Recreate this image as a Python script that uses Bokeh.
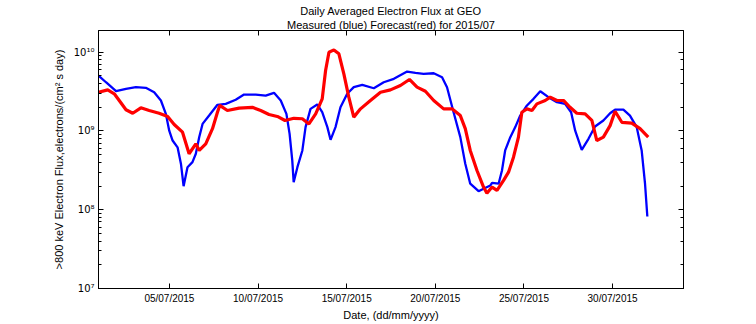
from datetime import datetime, timedelta
from bokeh.plotting import figure
from bokeh.models import (Range1d, FixedTicker, DatetimeTickFormatter, CustomJSTickFormatter,
                          LogAxis, DatetimeAxis, Title)
from bokeh.embed import file_html
from bokeh.resources import INLINE

# ---- data (days since 01/07/2015 00:00, flux in electrons/(cm^2 s day)) ----
blue_day = [0.00, 0.42, 0.99, 1.55, 2.11, 2.67, 3.14, 3.52, 3.80, 3.99, 4.18, 4.46, 4.65, 4.80,
            5.02, 5.30, 5.49, 5.68, 5.87, 6.24, 6.71, 7.18, 7.74, 8.21, 8.87, 9.43, 9.90, 10.28,
            10.60, 10.78, 10.93, 11.01, 11.22, 11.50, 11.68, 11.96, 12.34, 12.62, 12.91, 13.09,
            13.37, 13.65, 14.03, 14.40, 14.88, 15.53, 16.09, 16.66, 17.41, 17.88, 18.34, 18.91,
            19.38, 19.66, 20.03, 20.41, 20.69, 20.97, 21.44, 21.72, 22.10, 22.20, 22.57, 22.76,
            22.94, 23.23, 23.51, 23.79, 24.17, 24.54, 24.92, 25.38, 25.86, 26.32, 26.66, 26.89,
            27.26, 27.64, 28.01, 28.48, 28.86, 29.14, 29.61, 29.98, 30.36, 30.64, 30.83, 30.96]
blue_flux = [5.06e9, 4.16e9, 3.20e9, 3.43e9, 3.60e9, 3.53e9, 3.10e9, 2.44e9, 1.65e9, 1.01e9,
             7.57e8, 6.20e8, 3.84e8, 1.99e8, 3.47e8, 4.02e8, 5.14e8, 8.35e8, 1.23e9, 1.57e9,
             2.15e9, 2.21e9, 2.49e9, 2.90e9, 2.90e9, 2.82e9, 3.05e9, 2.44e9, 1.65e9, 9.20e8,
             4.23e8, 2.24e8, 3.47e8, 5.66e8, 1.12e9, 1.91e9, 2.17e9, 1.73e9, 1.12e9, 7.73e8,
             1.12e9, 2.00e9, 2.97e9, 3.60e9, 3.86e9, 3.49e9, 4.16e9, 4.60e9, 5.69e9, 5.48e9,
             5.32e9, 5.41e9, 4.82e9, 3.60e9, 1.73e9, 8.35e8, 3.84e8, 2.14e8, 1.72e8, 1.85e8,
             2.03e8, 2.20e8, 2.14e8, 3.15e8, 5.66e8, 8.35e8, 1.12e9, 1.57e9, 2.11e9, 2.56e9,
             3.20e9, 2.69e9, 2.32e9, 2.21e9, 1.73e9, 1.01e9, 5.77e8, 7.96e8, 1.14e9, 1.36e9,
             1.68e9, 1.87e9, 1.87e9, 1.57e9, 1.12e9, 5.66e8, 2.14e8, 8.20e7]

red_day = [0.00, 0.52, 0.89, 1.17, 1.55, 1.93, 2.39, 2.86, 3.42, 3.90, 4.27, 4.74, 5.11, 5.49,
           5.68, 6.05, 6.43, 6.71, 6.84, 7.27, 7.93, 8.68, 9.15, 9.62, 10.09, 10.52, 11.02,
           11.50, 11.87, 12.25, 12.62, 12.81, 13.00, 13.28, 13.56, 13.84, 14.12, 14.40, 14.78,
           15.34, 15.91, 16.47, 17.03, 17.54, 17.97, 18.44, 18.91, 19.47, 19.94, 20.41, 20.69,
           20.97, 21.35, 21.72, 21.91, 22.20, 22.48, 22.85, 23.13, 23.41, 23.69, 23.88, 24.17,
           24.45, 24.73, 25.20, 25.48, 25.86, 26.23, 26.60, 26.98, 27.45, 27.83, 28.11, 28.48,
           28.86, 29.14, 29.52, 30.08, 30.55, 31.01]
red_flux = [3.10e9, 3.33e9, 2.97e9, 2.44e9, 1.86e9, 1.68e9, 1.97e9, 1.82e9, 1.68e9, 1.53e9,
            1.21e9, 9.66e8, 5.14e8, 6.88e8, 5.66e8, 6.88e8, 1.07e9, 1.73e9, 2.11e9, 1.82e9,
            1.95e9, 2.00e9, 1.82e9, 1.62e9, 1.53e9, 1.36e9, 1.45e9, 1.43e9, 1.23e9, 1.65e9,
            2.56e9, 5.86e9, 1.00e10, 1.07e10, 9.55e9, 5.32e9, 2.69e9, 1.50e9, 1.91e9, 2.44e9,
            3.10e9, 3.33e9, 3.78e9, 4.51e9, 3.60e9, 3.20e9, 2.44e9, 1.91e9, 1.91e9, 1.57e9,
            1.07e9, 5.66e8, 3.15e8, 1.94e8, 1.62e8, 1.94e8, 1.76e8, 2.36e8, 3.00e8, 4.65e8,
            8.35e8, 1.73e9, 1.91e9, 1.82e9, 2.21e9, 2.44e9, 2.69e9, 2.44e9, 2.44e9, 2.00e9,
            1.68e9, 1.65e9, 1.36e9, 7.57e8, 8.35e8, 1.17e9, 1.78e9, 1.29e9, 1.26e9, 1.07e9, 8.35e8]

tick_days = [5, 10, 15, 20, 25, 30]  # July 2015

title_1 = "Daily Averaged Electron Flux at GEO"
title_2 = "Measured (blue) Forecast(red) for 2015/07"
x_label = "Date, (dd/mm/yyyy)"
y_label = ">800 keV Electron Flux,electrons/(cm\u00b2 s day)"

# ---- build ----
base = datetime(2015, 7, 1)
epoch = datetime(1970, 1, 1)
bx = [base + timedelta(days=d) for d in blue_day]
rx = [base + timedelta(days=d) for d in red_day]
tick_ms = [(datetime(2015, 7, d) - epoch).total_seconds() * 1000 for d in tick_days]

FONT = "'Liberation Sans', Arial, sans-serif"

p = figure(width=756, height=324, x_axis_type="datetime", y_axis_type="log",
           output_backend="svg", toolbar_location=None, title=None,
           x_range=Range1d(base, datetime(2015, 8, 3)),
           y_range=Range1d(1e7, 10 ** 10.276),
           min_border_left=98, min_border_right=73, min_border_top=30, min_border_bottom=36)
p.background_fill_color = "white"
p.border_fill_color = "white"
p.outline_line_color = "black"
p.xgrid.visible = False
p.ygrid.visible = False

p.line(bx, blue_flux, line_color="#0000ff", line_width=2.3)
p.line(rx, red_flux, line_color="#ff0000", line_width=3.2)

dt_fmt = DatetimeTickFormatter(days="%d/%m/%Y", months="%d/%m/%Y", hours="%d/%m/%Y",
                               years="%d/%m/%Y")
sup_code = """
const sup = {'0':'\\u2070','1':'\\u00b9','2':'\\u00b2','3':'\\u00b3','4':'\\u2074',
             '5':'\\u2075','6':'\\u2076','7':'\\u2077','8':'\\u2078','9':'\\u2079','-':'\\u207b'};
const e = Math.round(Math.log10(tick));
return '10' + String(e).split('').map(c => sup[c]).join('');
"""
blank = CustomJSTickFormatter(code="return '';")


def style(ax):
    ax.axis_line_color = "black"
    ax.major_tick_line_color = "black"
    ax.minor_tick_line_color = "black"
    ax.major_tick_in = 5
    ax.major_tick_out = 0
    ax.minor_tick_in = 3
    ax.minor_tick_out = 0
    ax.major_label_text_font = FONT
    ax.major_label_text_font_size = "10px"
    ax.major_label_text_color = "black"
    ax.axis_label_text_font = FONT
    ax.axis_label_text_font_size = "11px"
    ax.axis_label_text_font_style = "normal"
    ax.axis_label_text_color = "black"


xa = p.xaxis[0]
xa.ticker = FixedTicker(ticks=tick_ms, minor_ticks=[])
xa.formatter = dt_fmt
xa.axis_label = x_label
xa.major_label_standoff = 4
xa.axis_label_standoff = 2
style(xa)

ya = p.yaxis[0]
ya.formatter = CustomJSTickFormatter(code=sup_code)
ya.axis_label = y_label
ya.major_label_standoff = 4
ya.axis_label_standoff = 6
style(ya)
ya.major_label_text_font = "'DejaVu Sans', sans-serif"
ya.major_label_text_font_size = "10px"

top = DatetimeAxis(ticker=FixedTicker(ticks=tick_ms, minor_ticks=[]), formatter=blank,
                   major_label_standoff=0)
style(top)
top.major_label_text_font_size = "0px"
p.add_layout(top, "above")

right = LogAxis(formatter=blank, major_label_standoff=0)
style(right)
right.major_label_text_font_size = "0px"
p.add_layout(right, "right")

t2 = Title(text=title_2, align="center", text_font=FONT, text_font_size="11px",
           text_font_style="normal", text_color="black", standoff=0, offset=0)
t1 = Title(text=title_1, align="center", text_font=FONT, text_font_size="11px",
           text_font_style="normal", text_color="black", standoff=0, offset=0)
p.add_layout(t2, "above")
p.add_layout(t1, "above")

open("out.html", "w", encoding="utf-8").write(file_html(p, INLINE))
